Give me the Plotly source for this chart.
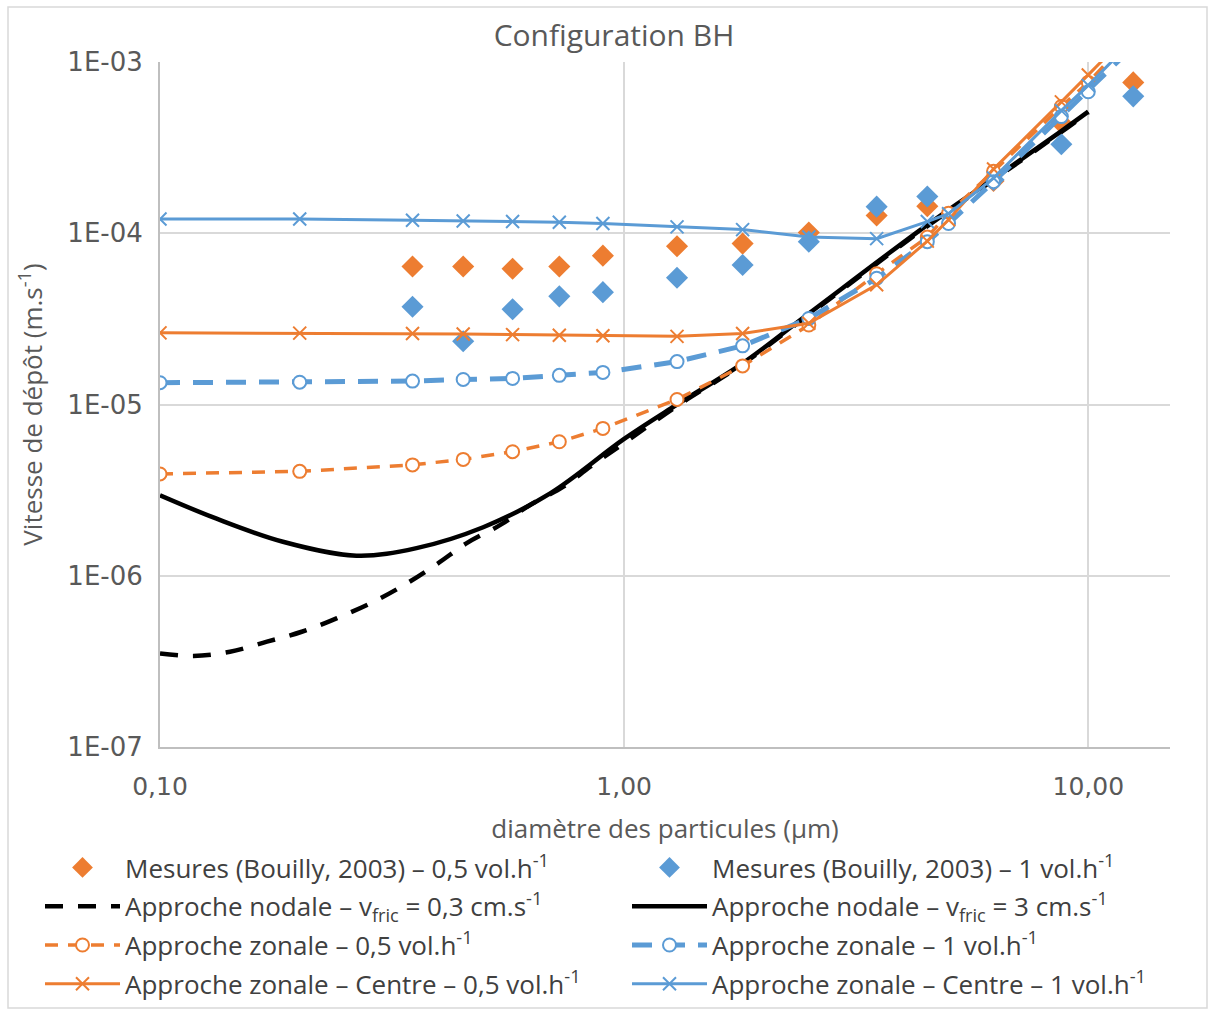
import plotly.graph_objects as go

# ---------------- data ----------------
d_mes = [0.35, 0.45, 0.575, 0.725, 0.9, 1.3, 1.8, 2.5, 3.5, 4.5, 6.25, 8.75, 12.5]
v_mes_05 = [6.4e-5, 6.4e-5, 6.2e-5, 6.4e-5, 7.4e-5, 8.4e-5, 8.7e-5, 1.01e-4, 1.27e-4, 1.44e-4, 2.02e-4, 4.4e-4, 7.6e-4]
v_mes_1 = [3.72e-5, 2.34e-5, 3.6e-5, 4.28e-5, 4.53e-5, 5.5e-5, 6.53e-5, 8.93e-5, 1.43e-4, 1.64e-4, 2.05e-4, 3.31e-4, 6.3e-4]

d_nod_03 = [0.1, 0.118, 0.1415, 0.17, 0.202, 0.24, 0.284, 0.334, 0.395, 0.458, 0.541, 0.627,
            0.74, 0.845, 1.0, 1.3, 1.8, 2.5, 4.5, 6.25, 8.75, 10]
v_nod_03 = [3.52e-7, 3.40e-7, 3.6e-7, 4.12e-7, 4.71e-7, 5.64e-7, 6.9e-7, 8.75e-7, 1.17e-6, 1.55e-6,
            1.98e-6, 2.59e-6, 3.31e-6, 4.33e-6, 5.96e-6, 9.8e-6, 1.72e-5, 3.35e-5, 1.1e-4, 2.05e-4,
            3.9e-4, 5.08e-4]

d_nod_3 = [0.1, 0.132, 0.184, 0.265, 0.357, 0.497, 0.693, 1.0, 1.3, 1.8, 2.5, 4.5, 6.25, 8.75, 10]
v_nod_3 = [2.95e-6, 2.16e-6, 1.58e-6, 1.31e-6, 1.45e-6, 1.92e-6, 3.03e-6, 6.3e-6, 1.0e-5, 1.74e-5,
           3.4e-5, 1.12e-4, 2.08e-4, 3.95e-4, 5.13e-4]

d_zon = [0.1, 0.2, 0.35, 0.45, 0.575, 0.725, 0.9, 1.3, 1.8, 2.5, 3.5, 4.5, 5.0, 6.25, 8.75, 10, 12.5]
v_zon_05 = [3.93e-6, 4.07e-6, 4.44e-6, 4.78e-6, 5.3e-6, 6.06e-6, 7.25e-6, 1.07e-5, 1.68e-5, 2.91e-5,
            5.8e-5, 9.5e-5, 1.31e-4, 2.3e-4, 5.5e-4, 7.6e-4, 1.45e-3]
v_zon_1 = [1.34e-5, 1.35e-5, 1.37e-5, 1.40e-5, 1.42e-5, 1.48e-5, 1.54e-5, 1.78e-5, 2.2e-5, 3.18e-5,
           5.46e-5, 8.93e-5, 1.14e-4, 2.0e-4, 4.8e-4, 6.7e-4, 1.23e-3]
v_cen_05 = [2.62e-5, 2.61e-5, 2.6e-5, 2.58e-5, 2.56e-5, 2.54e-5, 2.52e-5, 2.5e-5, 2.6e-5, 2.98e-5,
            5.0e-5, 9.0e-5, 1.2e-4, 2.37e-4, 5.85e-4, 8.4e-4, 1.55e-3]
v_cen_1 = [1.21e-4, 1.21e-4, 1.19e-4, 1.18e-4, 1.17e-4, 1.16e-4, 1.14e-4, 1.09e-4, 1.05e-4, 9.5e-5,
           9.3e-5, 1.17e-4, 1.3e-4, 2.1e-4, 5.2e-4, 7.3e-4, 1.35e-3]

x_tickvals = [0.1, 1, 10]
x_ticktext = ["0,10", "1,00", "10,00"]
y_tickvals = [1e-7, 1e-6, 1e-5, 1e-4, 1e-3]
y_ticktext = ["1E-07", "1E-06", "1E-05", "1E-04", "1E-03"]

names = {
    "mes05": "Mesures (Bouilly, 2003) – 0,5 vol.h<sup>-1</sup>",
    "mes1": "Mesures (Bouilly, 2003) – 1 vol.h<sup>-1</sup>",
    "nod03": "Approche nodale – v<sub>fric</sub> = 0,3 cm.s<sup>-1</sup>",
    "nod3": "Approche nodale – v<sub>fric</sub> = 3 cm.s<sup>-1</sup>",
    "zon05": "Approche zonale – 0,5 vol.h<sup>-1</sup>",
    "zon1": "Approche zonale – 1 vol.h<sup>-1</sup>",
    "cen05": "Approche zonale – Centre – 0,5 vol.h<sup>-1</sup>",
    "cen1": "Approche zonale – Centre – 1 vol.h<sup>-1</sup>",
}

ORANGE = "#ED7D31"
BLUE = "#5B9BD5"
BLACK = "#000000"
TXT = "#595959"
GRID = "#D9D9D9"
FONT = "Open Sans"

fig = go.Figure()

fig.add_trace(go.Scatter(x=d_mes, y=v_mes_05, mode="markers", name=names["mes05"],
                         marker=dict(symbol="diamond", size=17, color=ORANGE),
                         legend="legend", legendgroup="a1"))
fig.add_trace(go.Scatter(x=d_mes, y=v_mes_1, mode="markers", name=names["mes1"],
                         marker=dict(symbol="diamond", size=17, color=BLUE),
                         legend="legend2", legendgroup="b1"))
fig.add_trace(go.Scatter(x=d_nod_03, y=v_nod_03, mode="lines", name=names["nod03"],
                         line=dict(color=BLACK, width=4.5, dash="18px,15px", shape="spline"),
                         legend="legend", legendgroup="a2"))
fig.add_trace(go.Scatter(x=d_nod_3, y=v_nod_3, mode="lines", name=names["nod3"],
                         line=dict(color=BLACK, width=4.5, shape="spline"),
                         legend="legend2", legendgroup="b2"))
fig.add_trace(go.Scatter(x=d_zon, y=v_zon_05, mode="lines+markers", name=names["zon05"],
                         line=dict(color=ORANGE, width=3.5, dash="13px,10px"),
                         marker=dict(symbol="circle", size=13, color="white",
                                     line=dict(color=ORANGE, width=2)),
                         legend="legend", legendgroup="a3"))
fig.add_trace(go.Scatter(x=d_zon, y=v_zon_1, mode="lines+markers", name=names["zon1"],
                         line=dict(color=BLUE, width=5, dash="20px,13px"),
                         marker=dict(symbol="circle", size=13, color="white",
                                     line=dict(color=BLUE, width=2)),
                         legend="legend2", legendgroup="b3"))
fig.add_trace(go.Scatter(x=d_zon, y=v_cen_05, mode="lines+markers", name=names["cen05"],
                         line=dict(color=ORANGE, width=3),
                         marker=dict(symbol="x-thin", size=13, color=ORANGE,
                                     line=dict(color=ORANGE, width=2)),
                         legend="legend", legendgroup="a4"))
fig.add_trace(go.Scatter(x=d_zon, y=v_cen_1, mode="lines+markers", name=names["cen1"],
                         line=dict(color=BLUE, width=3),
                         marker=dict(symbol="x-thin", size=13, color=BLUE,
                                     line=dict(color=BLUE, width=2)),
                         legend="legend2", legendgroup="b4"))

# target pixel frame of the reference (1214 x 1014)
W, H = 1214, 1014
PL, PR, PT, PB = 160, 1170, 62, 747
ML, MR, MT, MB = PL, W - PR, PT, H - PB
pw, ph = PR - PL, PB - PT

def px2paper_x(px):
    return (px - PL) / pw

def px2paper_y(py):
    return (PB - py) / ph

legend_common = dict(font=dict(family=FONT, size=26, color="#404040"), bgcolor="rgba(0,0,0,0)",
                     itemwidth=75, tracegroupgap=2, orientation="v",
                     xanchor="left", yanchor="top", itemclick=False)

fig.update_layout(
    width=W, height=H,
    margin=dict(l=ML, r=MR, t=MT, b=MB, autoexpand=False),
    paper_bgcolor="white", plot_bgcolor="white",
    font=dict(family=FONT, color=TXT),
    title=dict(text="Configuration BH", x=614 / W, xref="container", xanchor="center",
               y=1 - 35 / H, yref="container", yanchor="middle",
               font=dict(family=FONT, size=30, color=TXT)),
    showlegend=True,
    legend=dict(x=px2paper_x(40), y=px2paper_y(844), **legend_common),
    legend2=dict(x=px2paper_x(627), y=px2paper_y(844), **legend_common),
    xaxis=dict(type="log", range=[-1, 1.1761], tickvals=x_tickvals, ticktext=x_ticktext,
               showgrid=True, gridcolor=GRID, gridwidth=2, zeroline=False,
               showline=True, linecolor="#BFBFBF", linewidth=2, ticks="",
               tickfont=dict(family="DejaVu Sans", size=25, color=TXT),
               ticklabelstandoff=16,
               title=dict(text="diamètre des particules (µm)", standoff=20,
                          font=dict(family=FONT, size=26, color=TXT))),
    yaxis=dict(type="log", range=[-7, -3], tickvals=y_tickvals, ticktext=y_ticktext,
               showgrid=True, gridcolor=GRID, gridwidth=2, zeroline=False,
               showline=True, linecolor="#BFBFBF", linewidth=2, ticks="",
               tickfont=dict(family="DejaVu Sans", size=26, color=TXT),
               ticklabelstandoff=10,
               title=dict(text="Vitesse de dépôt (m.s<sup>-1</sup>)", standoff=17,
                          font=dict(family=FONT, size=26, color=TXT))),
    shapes=[dict(type="rect", xref="paper", yref="paper",
                 x0=px2paper_x(8), x1=px2paper_x(1207), y0=px2paper_y(1008), y1=px2paper_y(7),
                 line=dict(color="#D9D9D9", width=1.5), fillcolor="rgba(0,0,0,0)", layer="below")],
)

fig.write_html(
    "out.html",
    config={"displayModeBar": False},
    post_script="document.body.style.margin='0px';document.documentElement.style.overflow='hidden';document.body.style.overflow='hidden';",
)
